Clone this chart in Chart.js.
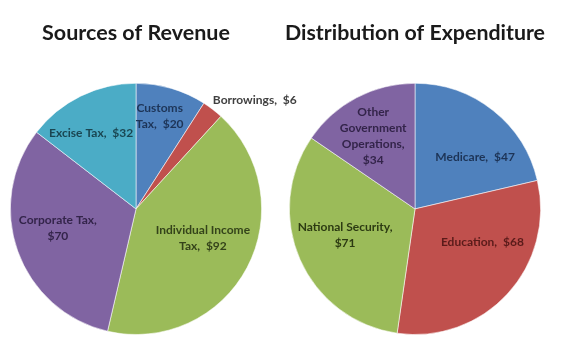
<!DOCTYPE html>
<html>
<head>
<meta charset="utf-8">
<script src="https://cdn.jsdelivr.net/npm/chart.js@4.4.1/dist/chart.umd.min.js"></script>
<style>
  body { margin:0; background:#fff; }
  #wrap { position:relative; width:569px; height:352px; }
  #wrap canvas { position:absolute; left:0; top:0; }
</style>
</head>
<body>
<div id="wrap">
  <canvas id="revenue" width="569" height="352"></canvas>
  <canvas id="expenditure" width="569" height="352"></canvas>
</div>
<script>
// data
const revenueTitle = 'Sources of Revenue';
const revenueCats = ['Customs Tax', 'Borrowings', 'Individual Income Tax', 'Corporate Tax', 'Excise Tax'];
const revenueVals = [20, 6, 92, 70, 32];

const expTitle = 'Distribution of Expenditure';
const expCats = ['Medicare', 'Education', 'National Security', 'Other Government Operations'];
const expVals = [47, 68, 71, 34];

// style
const blue = '#4F81BD', red = '#C0504D', green = '#9BBB59', purple = '#8064A2', cyan = '#4BACC6';
const revenueColours = [blue, red, green, purple, cyan];
const revenueText = ['#1d3457', '#404040', '#34431a', '#33244a', '#1a4652'];
const expColours = [blue, red, green, purple];
const expText = ['#1d3457', '#5a1b1a', '#2c3a12', '#33244a'];

// label placement: [angle nudge deg, radius fraction, wrap width]
const revenuePlace = [[-2, 0.76, 60], [10, 1.28, 200], [-4.5, 0.58, 110], [6, 0.64, 95], [-4.5, 0.70, 130]];
const expPlace = [[11, 0.63, 130], [-16, 0.60, 130], [3, 0.595, 110], [-2, 0.67, 72]];

const labelFont = 'bold 12px Lato';

function wrap(ctx, text, maxW){
	const words = text.split(' ');
	let lines = [], cur = null;
	for (const w of words){
		const test = cur === null ? w : cur + ' ' + w;
		if (cur !== null && w !== '' && ctx.measureText(test.trim()).width > maxW){
			lines.push(cur.trim());
			cur = w;
		} else cur = test;
	}
	lines.push(cur.trim());
	return lines;
}

const sliceLabels = {
  id: 'sliceLabels',
  afterDatasetsDraw(chart, args, opts){
    const {ctx} = chart;
    const meta = chart.getDatasetMeta(0);
    const vals = chart.data.datasets[0].data;
    ctx.save();
    ctx.font = labelFont;
    ctx.textAlign = 'center';
    ctx.textBaseline = 'middle';
    meta.data.forEach((arc, i) => {
      const p = arc.getProps(['x','y','startAngle','endAngle','outerRadius'], true);
      const pl = opts.place[i];
      const a = (p.startAngle + p.endAngle)/2 + pl[0]*Math.PI/180;
      const r = p.outerRadius * pl[1];
      const cx = p.x + r*Math.cos(a), cy = p.y + r*Math.sin(a);
      const text = chart.data.labels[i] + ',  $' + vals[i];
      const lines = wrap(ctx, text, pl[2]);
      ctx.fillStyle = opts.colours[i];
      const lh = 16;
      lines.forEach((ln, k) => {
        ctx.fillText(ln, cx, cy + (k - (lines.length-1)/2)*lh);
      });
    });
    ctx.restore();
  }
};

function makePie(id, title, cats, vals, colours, textColours, place, padding){
	return new Chart(document.getElementById(id), {
		type: 'pie',
		plugins: [sliceLabels],
		data: { labels: cats, datasets: [{ data: vals, backgroundColor: colours,
			borderColor: 'rgba(255,255,255,0.55)', borderWidth: 1 }] },
		options: {
			responsive: false, animation: false,
			layout: { padding: padding },
			plugins: {
				legend: {display: false},
				tooltip: {enabled: false},
				title: {display: true, text: title, color: '#1a1a1a',
					font: {family: 'Lato', size: 21.5, weight: 'bold'},
					padding: {top: 20, bottom: 37}},
				sliceLabels: {place: place, colours: textColours}
			}
		}
	});
}

makePie('revenue', revenueTitle, revenueCats, revenueVals, revenueColours, revenueText, revenuePlace,
	{left: 0, right: 297, top: 0, bottom: 17});
makePie('expenditure', expTitle, expCats, expVals, expColours, expText, expPlace,
	{left: 285, right: 24, top: 0, bottom: 17});
</script>
</body>
</html>
